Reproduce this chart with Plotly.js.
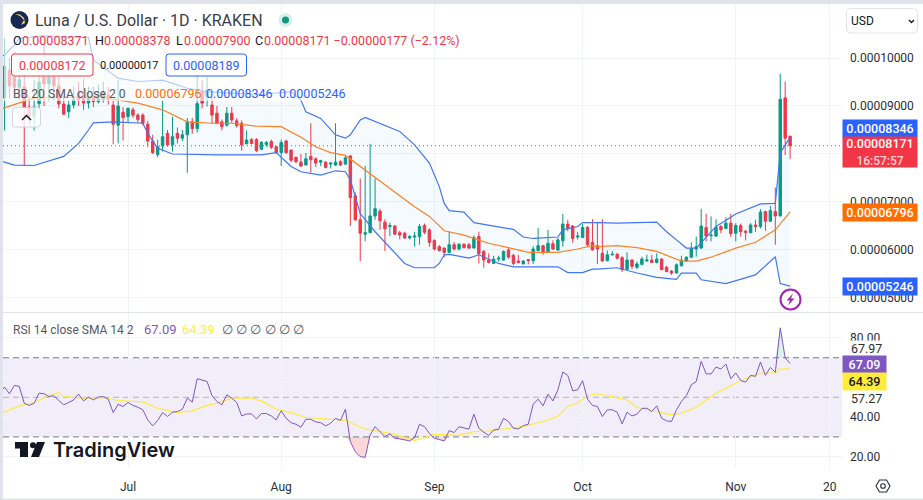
<!DOCTYPE html>
<html>
<head>
<meta charset="utf-8">
<script src="https://cdn.plot.ly/plotly-3.0.1.min.js"></script>
<style>
    html, body { margin: 0; padding: 0; background: #fff; overflow: hidden; }
</style>
</head>
<body>
<div id="chart" style="width:923px;height:500px"></div>
<script>
// Prices are written in units of 0.00001, one row per 10 days, first candle is FIRST_DAY.
const FIRST_DAY = "2023-06-06"
const PRICE_UNIT = 1e-5

const opens = [
    9.17,9.75,9.6,9.39,9.4,8.98,8.78,9.05,9.6,9.46,
    9.6,9.42,9.04,8.88,9.02,9.27,9.23,9.06,9.19,9.09,
    9.13,9.23,9.02,8.6,8.87,8.78,8.92,8.81,8.81,8.62,
    8.27,7.99,8.17,8.43,8.19,8.43,8.33,8.4,8.67,8.53,
    9.3,9.19,9.02,8.85,8.67,8.6,8.85,8.69,8.64,8.21,
    8.3,8.3,8.1,8.2,8.26,8.15,8.03,8.27,8.08,7.93,
    7.83,7.77,7.95,7.9,7.83,7.83,7.79,7.77,7.84,7.79,
    7.96,7.13,6.63,6.33,6.36,6.71,6.81,6.58,6.49,6.5,
    6.36,6.35,6.25,6.27,6.28,6.51,6.42,6.2,6.07,6.04,
    5.95,6.11,6.02,6.12,6.11,6.04,6.28,5.97,5.79,5.72,
    5.81,5.79,6.0,5.89,5.77,5.71,5.8,5.78,5.99,6.09,
    5.96,6.13,6.0,6.19,6.54,6.5,6.27,6.26,6.47,6.16,
    6.09,5.93,5.78,5.9,5.91,5.84,5.6,5.79,5.64,5.7,
    5.77,5.79,5.74,5.81,5.64,5.56,5.52,5.67,5.77,5.85,
    6.02,6.04,6.47,6.3,6.29,6.49,6.45,6.56,6.35,6.51,
    6.39,6.36,6.52,6.49,6.8,6.6,6.8,6.71,9.17,8.371
]
const highs = [
    10.41,10.0,10.13,9.95,9.85,9.2,9.55,9.82,10.3,9.9,
    9.85,9.6,9.2,9.1,9.4,9.5,9.57,9.4,9.4,9.45,
    9.5,9.4,9.12,9.54,8.98,8.97,8.97,8.85,8.85,8.69,
    8.4,8.3,9.12,8.5,8.78,8.55,8.5,8.75,8.75,9.75,
    9.54,9.6,9.19,9.0,8.72,8.98,8.98,8.75,8.7,8.49,
    8.33,8.33,8.27,8.27,8.3,8.17,8.3,8.3,8.1,7.95,
    8.0,8.02,8.64,7.93,7.88,7.85,7.83,8.64,7.87,7.95,
    7.98,7.2,7.49,7.75,8.21,7.49,6.86,6.64,6.57,6.52,
    6.4,6.38,6.31,6.38,6.54,6.55,6.45,6.22,6.1,6.05,
    6.38,6.17,6.14,6.14,6.15,6.3,6.38,6.0,5.93,5.88,
    5.88,5.99,6.04,5.92,5.9,5.79,5.81,6.08,6.46,6.1,
    6.42,6.2,6.25,6.75,6.63,6.52,6.38,6.54,6.5,6.64,
    6.57,6.64,5.99,5.98,5.94,5.87,5.95,5.81,5.76,5.86,
    5.9,5.9,5.93,5.83,5.67,5.58,5.72,5.88,5.87,6.16,
    6.28,6.86,6.75,6.7,6.64,6.52,6.68,6.75,6.56,6.55,
    6.42,6.56,6.63,6.85,6.82,6.92,7.3,9.67,9.51,8.378
]
const lows = [
    8.49,9.15,9.2,9.12,7.76,8.6,8.49,8.92,9.0,9.1,
    9.12,8.95,8.81,8.75,8.95,9.0,8.92,8.95,8.98,9.05,
    9.07,9.03,8.2,8.22,8.28,8.65,8.75,8.65,8.6,8.15,
    8.0,7.93,8.05,8.15,8.05,8.22,8.27,7.61,8.42,8.45,
    8.95,8.99,8.64,8.62,8.49,8.57,8.65,8.55,8.07,8.21,
    8.2,8.04,8.08,8.15,8.1,8.0,7.75,8.0,7.83,7.81,
    7.73,7.77,7.61,7.73,7.75,7.7,7.7,7.75,7.75,7.77,
    6.5,6.6,5.77,6.18,6.35,6.63,6.42,5.98,6.29,6.31,
    6.22,6.23,6.22,6.07,6.11,6.33,6.07,5.99,5.97,5.85,
    5.93,5.99,5.99,6.03,6.02,6.04,5.72,5.63,5.72,5.72,
    5.76,5.78,5.82,5.68,5.72,5.7,5.7,5.71,5.97,5.9,
    5.95,6.0,5.98,6.07,6.39,6.15,6.22,6.25,6.07,5.99,
    5.71,5.76,5.76,5.88,5.8,5.54,5.58,5.6,5.6,5.68,
    5.76,5.73,5.72,5.58,5.54,5.48,5.51,5.66,5.76,5.83,
    5.86,6.02,6.18,6.18,6.27,6.35,6.44,6.27,6.18,6.28,
    6.2,6.35,6.38,6.45,6.4,6.59,6.11,6.7,7.98,7.9
]
const closes = [
    9.83,9.42,9.39,9.55,8.98,8.78,8.98,9.5,9.46,9.6,
    9.42,9.04,8.83,9.02,9.13,9.13,9.06,9.19,9.09,9.23,
    9.27,9.13,8.62,9.0,8.76,8.95,8.81,8.72,8.64,8.27,
    8.03,8.15,8.36,8.19,8.36,8.33,8.4,8.67,8.53,9.05,
    9.06,9.33,8.81,8.64,8.57,8.85,8.71,8.59,8.19,8.29,
    8.22,8.07,8.24,8.24,8.14,8.03,8.24,8.03,7.87,7.84,
    7.75,7.9,7.88,7.81,7.86,7.72,7.81,7.83,7.77,7.92,
    7.09,6.63,6.35,6.36,6.71,6.86,6.61,6.44,6.51,6.33,
    6.31,6.25,6.28,6.29,6.49,6.37,6.16,6.02,5.99,5.95,
    6.11,6.02,6.12,6.05,6.04,6.26,5.92,5.79,5.74,5.81,
    5.83,5.97,5.85,5.72,5.74,5.77,5.78,6.02,6.09,5.95,
    6.14,6.02,6.21,6.54,6.45,6.24,6.29,6.47,6.11,6.0,
    6.02,5.77,5.9,5.91,5.83,5.59,5.79,5.66,5.71,5.81,
    5.79,5.74,5.81,5.59,5.55,5.52,5.69,5.79,5.85,6.03,
    6.07,6.5,6.29,6.31,6.47,6.42,6.56,6.34,6.51,6.38,
    6.37,6.52,6.49,6.79,6.6,6.82,6.71,9.14,8.33,8.171
]

// Bollinger lines read at their bends, the day is counted from FIRST_DAY.
const upperDays = [-1,0,2,3,8,17,18,23,27,32,37,41,46,52,58,60,61,64,67,69,70,72,73,76,80,83,86,88,89,90,93,95,103,105,107,112,113,116,117,120,124,132,134,136,138,140,144,148,153,156,157,159]
const upperBand = [10.03,10.06,10.27,10.41,10.46,10.43,9.96,9.58,9.51,9.54,9.37,9.3,9.27,9.24,9.3,9.12,8.88,8.74,8.4,8.33,8.4,8.71,8.76,8.63,8.47,8.19,7.81,7.32,6.97,6.82,6.79,6.57,6.43,6.27,6.24,6.27,6.42,6.49,6.57,6.57,6.56,6.58,6.38,6.21,6.04,6.04,6.49,6.75,6.96,6.97,8.02,8.346]
const lowerDays = [-1,0,2,6,12,15,17,18,22,28,29,31,34,43,52,55,58,60,64,67,69,70,72,75,81,83,87,88,89,90,94,96,100,103,112,114,117,119,120,124,128,132,136,137,140,141,146,152,156,157,159]
const lowerBand = [7.85,7.83,7.77,7.76,7.95,8.22,8.5,8.65,8.67,8.64,8.43,8.12,8.0,7.98,7.98,8.03,7.74,7.63,7.56,7.65,7.63,7.46,6.76,6.38,5.72,5.63,5.63,5.72,5.9,5.91,5.83,5.9,5.72,5.65,5.65,5.53,5.53,5.6,5.6,5.63,5.52,5.43,5.39,5.52,5.52,5.38,5.3,5.48,5.86,5.3,5.246]
const basisDays = [-1,0,6,19,27,32,37,42,46,51,56,60,63,66,69,72,77,83,86,89,93,98,102,106,112,116,119,120,124,128,132,137,140,143,148,152,156,159]
const basisLine = [8.93,8.96,9.17,9.19,9.06,8.92,8.67,8.64,8.64,8.58,8.57,8.35,8.15,8.03,7.97,7.74,7.36,6.9,6.7,6.4,6.31,6.14,6.05,5.95,5.95,6.02,6.09,6.07,6.09,6.05,5.97,5.77,5.77,5.85,6.04,6.16,6.42,6.796]

// RSI, one value a day. The first value belongs to the day before FIRST_DAY.
const rsiValues = [
    52.0,55.2,51.8,56.0,55.5,47.0,45.9,47.0,52.1,51.8,
    50.4,50.8,48.4,46.2,47.4,48.7,51.6,48.2,50.1,48.7,
    50.1,50.4,49.1,42.3,46.5,45.4,47.4,45.9,45.0,43.7,
    38.6,35.6,38.3,42.3,40.3,42.5,42.8,44.0,49.6,47.6,
    59.4,58.5,58.0,50.8,47.9,46.2,51.3,49.6,47.4,40.6,
    41.6,41.6,39.1,41.8,41.8,40.6,38.6,43.2,39.4,37.2,
    36.4,34.9,38.9,38.9,37.6,37.2,35.6,36.9,39.4,38.3,
    44.0,27.6,22.5,20.0,19.7,31.0,35.2,32.7,30.2,31.5,
    29.3,29.0,28.5,28.0,29.6,36.4,35.2,31.8,29.3,28.8,
    28.0,33.2,32.2,35.2,34.7,33.9,41.5,34.4,32.4,30.8,
    33.5,33.9,39.4,37.8,34.4,34.0,35.7,36.4,46.5,49.1,
    45.7,51.6,48.2,53.8,62.8,61.1,53.3,53.8,58.4,49.1,
    45.9,45.4,40.3,43.7,43.7,42.5,36.6,42.5,40.6,41.5,
    44.4,44.5,42.8,45.7,39.4,38.1,37.8,43.7,47.9,50.8,
    56.3,58.0,68.2,61.9,61.8,65.3,64.3,66.8,59.4,62.3,
    58.5,57.7,61.1,60.6,67.8,61.1,65.1,62.6,85.1,69.9,
    67.09
]
const rsiMaDays = [-1,3,6,9,11,12,16,20,23,28,31,35,38,41,43,46,50,52,55,58,61,69,73,75,79,83,87,92,95,98,102,105,109,112,114,116,118,120,123,126,128,131,135,137,140,142,144,149,153,156,157,159]
const rsiMaValues = [41.6,45.7,47.4,50.8,52.5,50.4,49.6,49.9,48.4,47.7,44.5,42.3,43.2,45.9,47.1,49.6,49.6,48.2,44.0,42.3,39.8,38.4,33.9,33.2,31.3,28.1,31.3,30.8,32.7,33.0,34.4,35.2,37.8,40.6,45.4,47.1,50.8,51.8,50.4,48.7,45.0,43.2,41.1,42.0,45.0,48.7,52.1,58.5,62.3,62.3,64.3,64.39]

const priceTicks = [5, 6, 7, 8, 9, 10]
const rsiTicks = [20, 40, 60, 80]
const rsiLevels = [70, 50, 30]
const timeTicks = ["2023-07-01", "2023-08-01", "2023-09-01", "2023-10-01", "2023-11-01", "2023-11-20"]
const timeLabels = ["Jul", "Aug", "Sep", "Oct", "Nov", "20"]

const UP = "#089981"
const DOWN = "#f23645"
const BLUE = "#2962ff"
const BAND_BLUE = "#4375f5"
const ORANGE = "#ff6d00"
const PURPLE = "#7e57c2"
const YELLOW = "#ffeb3b"
const GRID = "#f0f3fa"
const BORDER = "#e0e3eb"
const FONT = "Roboto, sans-serif"

const WIDTH = 923
const HEIGHT = 500
const PLOT_LEFT = 3
const PLOT_RIGHT = 842

const px = (x) => x / WIDTH
const py = (y) => 1 - y / HEIGHT
const toPrice = (value) => value * PRICE_UNIT
const priceText = (value) => (value * PRICE_UNIT).toFixed(8)
const last = (values) => values[values.length - 1]

function dayDate(index) {
    return new Date(Date.parse(FIRST_DAY + "T00:00:00Z") + index * 86400000).toISOString()
}

const candleDates = closes.map((_, i) => dayDate(i))
const rsiDates = rsiValues.map((_, i) => dayDate(i - 1))

function lineTrace(days, values, color, width, extra) {
    return Object.assign({
        x: days,
        y: values,
        type: "scatter",
        mode: "lines",
        line: {color: color, width: width},
        hoverinfo: "skip"
    }, extra)
}

const traces = [
    {
        x: candleDates,
        open: opens.map(toPrice),
        high: highs.map(toPrice),
        low: lows.map(toPrice),
        close: closes.map(toPrice),
        type: "candlestick",
        width: 48000000,
        whiskerwidth: 0,
        increasing: {line: {color: UP, width: 1}, fillcolor: UP},
        decreasing: {line: {color: DOWN, width: 1}, fillcolor: DOWN},
        hoverinfo: "skip"
    },
    lineTrace(upperDays.map(dayDate), upperBand.map(toPrice), BAND_BLUE, 1.2),
    lineTrace(lowerDays.map(dayDate), lowerBand.map(toPrice), BAND_BLUE, 1.2, {fill: "tonexty", fillcolor: "rgba(33,150,243,0.05)"}),
    lineTrace(basisDays.map(dayDate), basisLine.map(toPrice), "#ff8126", 1.2),
    // oversold and overbought parts of the rsi are filled against their level
    lineTrace(rsiDates, rsiValues.map(() => 30), "rgba(0,0,0,0)", 0, {yaxis: "y2"}),
    lineTrace(rsiDates, rsiValues.map((v) => Math.min(v, 30)), "rgba(0,0,0,0)", 0, {yaxis: "y2", fill: "tonexty", fillcolor: "rgba(242,54,69,0.2)"}),
    lineTrace(rsiDates, rsiValues.map(() => 70), "rgba(0,0,0,0)", 0, {yaxis: "y2"}),
    lineTrace(rsiDates, rsiValues.map((v) => Math.max(v, 70)), "rgba(0,0,0,0)", 0, {yaxis: "y2", fill: "tonexty", fillcolor: "rgba(8,153,129,0.14)"}),
    lineTrace(rsiMaDays.map(dayDate), rsiMaValues, YELLOW, 1.2, {yaxis: "y2"}),
    lineTrace(rsiDates, rsiValues, PURPLE, 1, {yaxis: "y2"})
]

function pixelRect(x0, y0, x1, y1, fill, extra) {
    return Object.assign({
        type: "rect", xref: "paper", yref: "paper",
        x0: px(x0), x1: px(x1), y0: py(y0), y1: py(y1),
        fillcolor: fill, line: {width: 0}, layer: "above"
    }, extra)
}

function pixelPath(points, close, style) {
    const path = points.map((p, i) => (i ? "L" : "M") + px(p[0]) + "," + py(p[1])).join(" ") + (close ? " Z" : "")
    return Object.assign({type: "path", xref: "paper", yref: "paper", path: path, layer: "above", line: {width: 0}}, style)
}

function pixelCircle(cx, cy, r, fill, line) {
    return pixelRect(cx - r, cy + r, cx + r, cy - r, fill, {type: "circle", line: line || {width: 0}})
}

function roundBox(x0, y0, x1, y1, r, fill, lineColor) {
    const X = (x) => px(x)
    const Y = (y) => py(y)
    const path = `M${X(x0 + r)},${Y(y0)} L${X(x1 - r)},${Y(y0)} Q${X(x1)},${Y(y0)} ${X(x1)},${Y(y0 + r)} ` +
        `L${X(x1)},${Y(y1 - r)} Q${X(x1)},${Y(y1)} ${X(x1 - r)},${Y(y1)} L${X(x0 + r)},${Y(y1)} ` +
        `Q${X(x0)},${Y(y1)} ${X(x0)},${Y(y1 - r)} L${X(x0)},${Y(y0 + r)} Q${X(x0)},${Y(y0)} ${X(x0 + r)},${Y(y0)} Z`
    return {type: "path", xref: "paper", yref: "paper", path: path, layer: "above", fillcolor: fill, line: {color: lineColor, width: lineColor ? 1 : 0}}
}

const WASH = "rgba(255,255,255,0.62)"

const shapes = [
    // rsi channel
    {type: "rect", xref: "paper", yref: "y2", x0: px(PLOT_LEFT), x1: px(PLOT_RIGHT), y0: 30, y1: 70, fillcolor: "rgba(126,87,194,0.1)", line: {width: 0}, layer: "below"},
    ...rsiLevels.map((level) => ({
        type: "line", xref: "paper", yref: "y2", x0: px(PLOT_LEFT), x1: px(PLOT_RIGHT), y0: level, y1: level,
        line: {color: level === 50 ? "rgba(120,123,134,0.5)" : "#787b86", width: 1, dash: "6px,4px"}, layer: "below"
    })),
    // last price
    {type: "line", xref: "paper", yref: "y", x0: px(PLOT_LEFT), x1: px(PLOT_RIGHT), y0: toPrice(last(closes)), y1: toPrice(last(closes)),
        line: {color: DOWN, width: 1, dash: "1px,3px"}, layer: "above"},
    // the legend washes out what is drawn behind it
    pixelRect(4, 33, 250, 101, WASH),
    pixelRect(250, 33, 465, 48, WASH),
    pixelRect(250, 85, 346, 101, WASH),
    // frame
    pixelRect(0, 0, WIDTH, 4, BORDER),
    pixelRect(0, 0, 3, HEIGHT, BORDER),
    pixelRect(0, 498.5, WIDTH, HEIGHT, BORDER),
    pixelRect(3, 312, WIDTH, 313, BORDER),
    // legend boxes
    roundBox(11.5, 54, 93, 76, 3, "rgba(255,255,255,0.9)", DOWN),
    roundBox(166, 54, 246.5, 76, 3, "rgba(255,255,255,0.9)", BLUE),
    roundBox(12.5, 107.5, 40.5, 127, 3, "rgba(255,255,255,0.8)", "#d1d4dc"),
    pixelPath([[22, 120], [26.5, 115.5], [31, 120]], false, {line: {color: "#131722", width: 1.5}}),
    // currency box
    roundBox(846.5, 8.5, 917.5, 33, 4, "#ffffff", BORDER),
    pixelPath([[909, 20], [911.5, 22.5], [914, 20]], false, {line: {color: "#131722", width: 1.3}}),
    // symbol logo
    pixelCircle(19.5, 20, 9, "#172852"),
    pixelPath([[15, 14], [20, 14.5], [24, 18], [25, 23], [21, 25], [24, 20], [20, 16]], true, {fillcolor: "#f9d85e"}),
    // market status
    pixelCircle(285.5, 20, 7, "#d9f0ea"),
    pixelCircle(285.5, 20, 3.5, UP),
    // lightning mark
    pixelCircle(790.5, 299.5, 10, "#ffffff", {color: "#9c27b0", width: 2}),
    pixelPath([[793, 293.5], [786.5, 300.5], [790, 300.5], [788, 305.5], [794.5, 298.5], [791, 298.5]], true, {fillcolor: "#9c27b0"}),
    // watermark
    pixelPath([[15, 442], [28, 442], [28, 457], [20, 457], [20, 448.5], [15, 448.5]], true, {fillcolor: "#131722"}),
    pixelCircle(33, 445.2, 3, "#131722"),
    pixelPath([[37, 442], [45, 442], [39, 457], [31, 457]], true, {fillcolor: "#131722"}),
    // settings
    pixelPath([[876, 486], [879.5, 480], [886.5, 480], [890, 486], [886.5, 492], [879.5, 492]], true, {line: {color: "#2a2e39", width: 1.1}}),
    pixelCircle(883, 486, 2.3, "rgba(0,0,0,0)", {color: "#2a2e39", width: 1.1})
]

function note(x, y, text, color, size, extra) {
    return Object.assign({
        xref: "paper", yref: "paper", x: px(x), y: py(y), text: text,
        xanchor: "left", yanchor: "middle", showarrow: false, align: "left",
        font: {family: FONT, size: size, color: color}, borderpad: 0
    }, extra)
}

// label on the price scale, filled and with a fixed size
function scaleLabel(x, yMiddle, width, height, text, fill, color, size) {
    return note(x, yMiddle, text, color, size, {bgcolor: fill, width: width, height: height, align: "center", font: {family: FONT, size: size, color: color, weight: 500}})
}

const LEGEND_SIZE = 12.5
const LABEL_SIZE = 12.5
const INK = "#131722"
const MUTED = "#555964"

const annotations = [
    note(34, 20.5, "Luna / U.S. Dollar · 1D · KRAKEN", "#3a3e49", 16),
    note(11.5, 40.5, "O", INK, LEGEND_SIZE),
    note(20.5, 40.5, priceText(opens[159]), DOWN, LEGEND_SIZE),
    note(93.5, 40.5, "H", INK, LEGEND_SIZE),
    note(102.5, 40.5, priceText(highs[159]), DOWN, LEGEND_SIZE),
    note(175, 40.5, "L", INK, LEGEND_SIZE),
    note(183, 40.5, priceText(lows[159]), DOWN, LEGEND_SIZE),
    note(254, 40.5, "C", INK, LEGEND_SIZE),
    note(263, 40.5, priceText(closes[159]) + " −0.00000177 (−2.12%)", DOWN, LEGEND_SIZE),
    note(52.2, 65, "0.00008172", DOWN, LEGEND_SIZE, {xanchor: "center"}),
    note(129, 65, "0.00000017", INK, 11, {xanchor: "center"}),
    note(206.2, 65, "0.00008189", BLUE, LEGEND_SIZE, {xanchor: "center"}),
    note(12, 93.5, "BB 20 SMA close 2 0", MUTED, 12.2),
    note(134, 93.5, priceText(last(basisLine)), ORANGE, LEGEND_SIZE),
    note(205, 93.5, priceText(last(upperBand)), BLUE, LEGEND_SIZE),
    note(278, 93.5, priceText(last(lowerBand)), BLUE, LEGEND_SIZE),
    note(12, 329.5, "RSI 14 close SMA 14 2", MUTED, 12),
    note(143, 329.5, last(rsiValues).toFixed(2), PURPLE, 13),
    note(181, 329.5, last(rsiMaValues).toFixed(2), YELLOW, 13),
    note(221, 329.5, "∅ ∅ ∅ ∅ ∅ ∅", MUTED, 13),
    note(52, 450, "TradingView", INK, 20, {font: {family: "Inter, sans-serif", size: 20, color: INK, weight: 600}}),
    note(850, 21, "USD", INK, 12),
    // price scale labels
    scaleLabel(842, 128.5, 74, 17, priceText(last(upperBand)), BLUE, "#ffffff", LABEL_SIZE),
    note(842, 152, `${priceText(last(closes))}<br><span style="font-size:12px;color:#fcd3d6">16:57:57</span>`, "#ffffff", LABEL_SIZE,
        {bgcolor: DOWN, width: 74, height: 30, align: "center", font: {family: FONT, size: LABEL_SIZE, color: "#ffffff", weight: 500}}),
    scaleLabel(842, 212.5, 74, 17, priceText(last(basisLine)), ORANGE, "#ffffff", LABEL_SIZE),
    scaleLabel(842, 286.5, 74, 17, priceText(last(lowerBand)), BLUE, "#ffffff", LABEL_SIZE),
    // rsi scale labels
    note(850, 348, "67.97", "#2a2e39", LABEL_SIZE, {bgcolor: "#ffffff", width: 35, height: 15}),
    note(850, 398.5, "57.27", "#2a2e39", LABEL_SIZE, {bgcolor: "#ffffff"}),
    scaleLabel(842, 364.5, 43, 17, last(rsiValues).toFixed(2), PURPLE, "#ffffff", LABEL_SIZE),
    scaleLabel(842, 381.5, 43, 17, last(rsiMaValues).toFixed(2), YELLOW, "#131722", LABEL_SIZE)
]

const tickFont = {family: FONT, size: 12, color: "#2a2e39"}

const layout = {
    width: WIDTH,
    height: HEIGHT,
    margin: {l: 0, r: 0, t: 0, b: 0},
    paper_bgcolor: "#ffffff",
    plot_bgcolor: "#ffffff",
    showlegend: false,
    hovermode: false,
    xaxis: {
        domain: [px(PLOT_LEFT), px(PLOT_RIGHT)],
        type: "date",
        range: ["2023-06-05T16:48:00Z", "2023-11-22T12:00:00Z"],
        anchor: "y2",
        tickmode: "array",
        tickvals: timeTicks,
        ticktext: timeLabels,
        tickfont: tickFont,
        ticks: "",
        ticklabelstandoff: 10,
        gridcolor: GRID,
        showline: false,
        zeroline: false,
        rangeslider: {visible: false}
    },
    yaxis: {
        domain: [py(312), py(4)],
        range: [4.708 * PRICE_UNIT, 11.125 * PRICE_UNIT],
        side: "right",
        anchor: "x",
        tickmode: "array",
        tickvals: priceTicks.map(toPrice),
        ticktext: priceTicks.map(priceText),
        tickfont: tickFont,
        ticks: "",
        ticklabelstandoff: 7,
        gridcolor: GRID,
        showline: false,
        zeroline: false
    },
    yaxis2: {
        domain: [py(468), py(313)],
        range: [14.3, 92.6],
        side: "right",
        anchor: "x",
        tickmode: "array",
        tickvals: rsiTicks,
        ticktext: rsiTicks.map((t) => t.toFixed(2)),
        tickfont: tickFont,
        ticks: "",
        ticklabelstandoff: 7,
        gridcolor: GRID,
        showline: false,
        zeroline: false
    },
    shapes: shapes,
    annotations: annotations
}

Plotly.newPlot("chart", traces, layout, {displayModeBar: false, staticPlot: true})
</script>
</body>
</html>
